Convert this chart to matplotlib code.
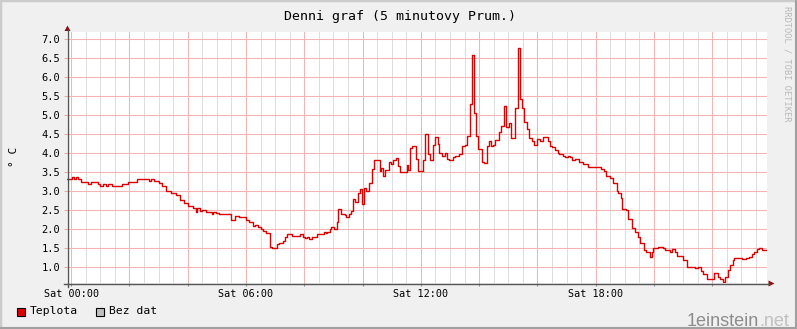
import matplotlib
matplotlib.use("Agg")
import matplotlib.pyplot as plt
from matplotlib.patches import Rectangle, Polygon
from matplotlib.lines import Line2D
from matplotlib.ticker import FixedLocator

# ---- data: minutes since Sat 00:00 (step start) and temperature (deg C) ----
minutes = [
    -8, 1, 6, 9, 14, 21, 35, 40, 55, 60, 66, 71, 76, 84, 105, 116, 136, 160, 164, 171,
    180, 186, 195, 205, 215, 225, 233, 241, 251, 256, 260, 265, 269, 277, 282, 289, 293, 299, 304, 330,
    337, 345, 359, 366, 374, 379, 385, 390, 395, 402, 409, 414, 424, 428, 436, 441, 444, 454, 472, 477,
    481, 485, 489, 496, 507, 520, 524, 527, 532, 535, 542, 547, 549, 556, 563, 566, 571, 577, 580, 585,
    590, 595, 599, 603, 607, 614, 619, 623, 635, 638, 643, 647, 655, 659, 662, 668, 672, 677, 681, 691,
    694, 698, 702, 709, 714, 725, 729, 734, 738, 744, 750, 755, 758, 764, 769, 773, 777, 786, 790, 799,
    804, 810, 814, 821, 826, 830, 834, 838, 845, 849, 856, 860, 865, 868, 873, 880, 884, 891, 895, 902,
    906, 914, 919, 924, 928, 933, 939, 943, 948, 952, 960, 965, 971, 974, 981, 985, 990, 997, 1002, 1005,
    1012, 1017, 1022, 1028, 1032, 1038, 1045, 1053, 1065, 1091, 1096, 1101, 1109, 1115, 1123, 1126, 1132, 1135, 1143, 1147,
    1155, 1161, 1166, 1171, 1180, 1183, 1192, 1195, 1198, 1209, 1218, 1223, 1233, 1238, 1243, 1248, 1259, 1267, 1285, 1290,
    1297, 1301, 1310, 1324, 1331, 1336, 1341, 1346, 1352, 1356, 1362, 1365, 1382, 1389, 1396, 1401, 1406, 1411, 1416, 1423,
]
teplota = [
    3.32, 3.37, 3.32, 3.37, 3.32, 3.25, 3.20, 3.25, 3.20, 3.15, 3.19, 3.15, 3.19, 3.14, 3.19, 3.25, 3.31, 3.26, 3.31, 3.26,
    3.21, 3.13, 3.00, 2.95, 2.90, 2.77, 2.70, 2.61, 2.56, 2.46, 2.55, 2.48, 2.51, 2.46, 2.45, 2.40, 2.45, 2.42, 2.39, 2.25,
    2.36, 2.32, 2.25, 2.19, 2.09, 2.12, 2.07, 2.00, 1.96, 1.91, 1.53, 1.50, 1.61, 1.63, 1.69, 1.79, 1.88, 1.82, 1.87, 1.79,
    1.76, 1.79, 1.75, 1.81, 1.88, 1.93, 1.89, 1.92, 2.00, 2.05, 2.00, 2.20, 2.53, 2.39, 2.38, 2.32, 2.39, 2.49, 2.79, 2.72,
    2.95, 3.05, 2.67, 3.08, 3.02, 3.23, 3.58, 3.82, 3.54, 3.60, 3.40, 3.56, 3.78, 3.71, 3.81, 3.87, 3.67, 3.51, 3.50, 3.68,
    3.56, 4.13, 4.19, 3.84, 3.54, 3.82, 4.50, 3.97, 3.82, 4.22, 4.42, 4.25, 4.00, 3.94, 4.00, 3.84, 3.82, 3.89, 3.94, 3.97,
    4.18, 4.22, 4.46, 5.30, 6.57, 5.07, 4.46, 4.11, 3.78, 3.75, 4.18, 4.31, 4.18, 4.22, 4.35, 4.57, 4.72, 5.25, 4.68, 4.79,
    4.41, 5.18, 6.78, 5.42, 5.20, 4.83, 4.63, 4.39, 4.31, 4.22, 4.37, 4.32, 4.42, 4.44, 4.31, 4.19, 4.16, 4.09, 4.00, 3.98,
    3.93, 3.90, 3.93, 3.90, 3.82, 3.86, 3.76, 3.71, 3.65, 3.59, 3.53, 3.41, 3.34, 3.21, 3.02, 2.95, 2.82, 2.53, 2.51, 2.27,
    2.03, 1.94, 1.79, 1.65, 1.46, 1.41, 1.26, 1.41, 1.50, 1.54, 1.50, 1.46, 1.39, 1.48, 1.39, 1.31, 1.19, 1.02, 0.97, 1.00,
    0.91, 0.82, 0.69, 0.86, 0.75, 0.69, 0.62, 0.75, 0.93, 1.06, 1.19, 1.25, 1.21, 1.25, 1.28, 1.34, 1.39, 1.47, 1.50, 1.46,
]
end_minute = 1432
x_major_ticks = list(range(0, 1440, 120))
x_minor_ticks = list(range(0, 1440, 30))
x_tick_labels = ["Sat 00:00", "", "", "Sat 06:00", "", "", "Sat 12:00", "", "", "Sat 18:00", "", ""]
y_ticks = [1.0, 1.5, 2.0, 2.5, 3.0, 3.5, 4.0, 4.5, 5.0, 5.5, 6.0, 6.5, 7.0]
y_tick_labels = ["%.1f" % v for v in y_ticks]
title = "Denni graf (5 minutovy Prum.)"
y_label = "° C"
legend_labels = ["Teplota", "Bez dat"]

# ---- layout ----
W, H = 797, 329
MONO = "DejaVu Sans Mono"
fig = plt.figure(figsize=(W / 100, H / 100), dpi=100, facecolor="#f0f0f0")


def fx(x):
    return x / W


def fy(y):
    return 1 - y / H


L, R, T, B = 67.3, 766.7, 32.3, 283.3
ax = fig.add_axes([fx(L), fy(B), (R - L) / W, (B - T) / H])
ax.set_facecolor("white")

ts = minutes + [end_minute]
vs = teplota + [teplota[-1]]
ax.step(ts, vs, where="post", color="#dd0000", lw=1.0, zorder=3)

ax.set_xlim(-8, end_minute)
ax.set_ylim(0.58, 7.18)

ax.xaxis.set_major_locator(FixedLocator(x_major_ticks))
ax.xaxis.set_minor_locator(FixedLocator(x_minor_ticks))
ax.set_xticklabels(x_tick_labels, fontfamily=MONO, fontsize=7.3)
ax.set_yticks(y_ticks)
ax.set_yticklabels(y_tick_labels, fontfamily=MONO, fontsize=7.5)

for s in ax.spines.values():
    s.set_visible(False)

ax.tick_params(axis="x", which="major", length=2.5, width=0.75, color="#888888",
               direction="out", pad=1.5, labelcolor="#000000")
ax.tick_params(axis="x", which="minor", length=0)
ax.tick_params(axis="y", which="major", length=2, width=0.75, color="#f4a8a8",
               direction="out", pad=3.2, labelcolor="#000000")

ax.set_axisbelow(True)
ax.grid(True, which="major", axis="both", color="#f5b3b3", lw=0.75)
ax.grid(True, which="minor", axis="x", color="#dedede", lw=0.75)

# axes lines + arrows (rrdtool style)
axis_col = "#555555"
arrow_col = "#8b1010"
fig.add_artist(Line2D([fx(67.5), fx(67.5)], [fy(287), fy(30)], color=axis_col, lw=1.0,
                      transform=fig.transFigure))
fig.add_artist(Line2D([fx(64), fx(769)], [fy(283.5), fy(283.5)], color=axis_col, lw=1.0,
                      transform=fig.transFigure))
fig.add_artist(Polygon([[fx(64.5), fy(31)], [fx(70.5), fy(31)], [fx(67.5), fy(25.5)]],
                       closed=True, color=arrow_col, transform=fig.transFigure, lw=0))
fig.add_artist(Polygon([[fx(768.5), fy(280.5)], [fx(768.5), fy(286.5)], [fx(774.5), fy(283.5)]],
                       closed=True, color=arrow_col, transform=fig.transFigure, lw=0))

# title, axis label, side text
fig.text(fx(400), fy(16.5), title, ha="center", va="center", fontfamily=MONO, fontsize=9.5)
fig.text(fx(14), fy(157), y_label, ha="center", va="center", rotation=90,
         fontfamily=MONO, fontsize=8)
fig.text(fx(787), fy(6), "RRDTOOL / TOBI OETIKER", ha="center", va="top", rotation=270,
         fontfamily=MONO, fontsize=6.2, color="#b8b8b8")

# legend
fig.add_artist(Rectangle((fx(16.5), fy(315.5)), 8 / W, 8 / H, transform=fig.transFigure,
                         facecolor="#dd0000", edgecolor="#000000", lw=0.8))
fig.text(fx(30), fy(311.5), legend_labels[0], ha="left", va="center", fontfamily=MONO, fontsize=8.2)
fig.add_artist(Rectangle((fx(95.5), fy(315.5)), 8 / W, 8 / H, transform=fig.transFigure,
                         facecolor="#c0c0c0", edgecolor="#000000", lw=0.8))
fig.text(fx(109), fy(311.5), legend_labels[1], ha="left", va="center", fontfamily=MONO, fontsize=8.2)

# watermark
t1 = fig.text(fx(687), fy(325.5), "1einstein", ha="left", va="baseline",
              fontfamily="Liberation Sans", fontsize=13, color="#8c8c8c")
fig.canvas.draw()
bb = t1.get_window_extent()
fig.text(bb.x1 / W, fy(325.5), ".net", ha="left", va="baseline",
         fontfamily="Liberation Sans", fontsize=13, color="#c0c0c0")

# outer border
fig.add_artist(Rectangle((0, 0), 1, 1, transform=fig.transFigure, fill=False,
                         edgecolor="#cbcbcb", lw=2.5))
fig.add_artist(Line2D([0, 1], [fy(328), fy(328)], color="#a0a0a0", lw=1.5, transform=fig.transFigure))
fig.add_artist(Line2D([fx(796), fx(796)], [0, 1], color="#a0a0a0", lw=1.5, transform=fig.transFigure))

fig.savefig("out.png", dpi=100, facecolor=fig.get_facecolor())
